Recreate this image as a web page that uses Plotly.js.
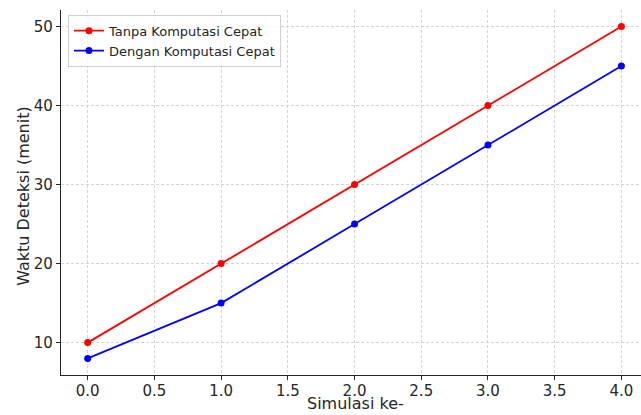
<!DOCTYPE html>
<html><head><meta charset="utf-8">
<script src="https://cdn.plot.ly/plotly-3.0.1.min.js"></script>
<style>html,body{margin:0;padding:0;background:#fff}#c{width:641px;height:415px}</style>
</head><body><div id="c"></div>
<script>
const simulasi = [0, 1, 2, 3, 4];
const tanpaKomputasi = [10, 20, 30, 40, 50];
const denganKomputasi = [8, 15, 25, 35, 45];
const xTicks = [0, 0.5, 1, 1.5, 2, 2.5, 3, 3.5, 4];
const yTicks = [10, 20, 30, 40, 50];
const xTitle = 'Simulasi ke-';
const yTitle = 'Waktu Deteksi (menit)';

const traces = [
  {x: simulasi, y: tanpaKomputasi, name: 'Tanpa Komputasi Cepat', mode: 'lines+markers',
   line: {color: '#ff0000', width: 1.8}, marker: {color: '#ff0000', size: 7}},
  {x: simulasi, y: denganKomputasi, name: 'Dengan Komputasi Cepat', mode: 'lines+markers',
   line: {color: '#0000ff', width: 1.8}, marker: {color: '#0000ff', size: 7}}
];
const layout = {
  width: 641, height: 415,
  margin: {l: 61, r: 0, t: 10, b: 40},
  paper_bgcolor: '#fff', plot_bgcolor: '#fff',
  font: {family: 'DejaVu Sans', color: '#262626'},
  showlegend: true,
  legend: {x: 0.012, y: 0.987, xanchor: 'left', yanchor: 'top', bgcolor: 'rgba(255,255,255,0.8)',
    bordercolor: '#d0d0d0', borderwidth: 1, font: {size: 13, color: '#262626'}, tracegroupgap: 0},
  xaxis: {range: [-0.2, 4.147], tickvals: xTicks, ticktext: xTicks.map(v => v.toFixed(1)),
    showgrid: true, gridcolor: '#d4d4d4', griddash: '3px,2px', gridwidth: 0.8,
    showline: true, linecolor: '#262626', linewidth: 1.2, ticks: 'outside', ticklen: 4, tickcolor: '#262626',
    ticklabelstandoff: -2,
    zeroline: false, tickfont: {size: 15}},
  yaxis: {range: [5.9, 52.1], tickvals: yTicks, ticktext: yTicks.map(String),
    showgrid: true, gridcolor: '#d4d4d4', griddash: '3px,2px', gridwidth: 0.8,
    showline: true, linecolor: '#262626', linewidth: 1.2, ticks: 'outside', ticklen: 4, tickcolor: '#262626',
    zeroline: false, tickfont: {size: 15}},
  annotations: [
    {text: xTitle, xref: 'paper', yref: 'paper', x: 0.507, y: -0.1096, xanchor: 'center', yanchor: 'bottom',
     showarrow: false, font: {size: 16, color: '#262626'}},
    {text: yTitle, xref: 'paper', yref: 'paper', x: -0.066, y: 0.49, xanchor: 'center', yanchor: 'middle',
     textangle: -90, showarrow: false, font: {size: 16, color: '#262626'}}
  ]
};
Plotly.newPlot('c', traces, layout, {displayModeBar: false});
</script></body></html>
